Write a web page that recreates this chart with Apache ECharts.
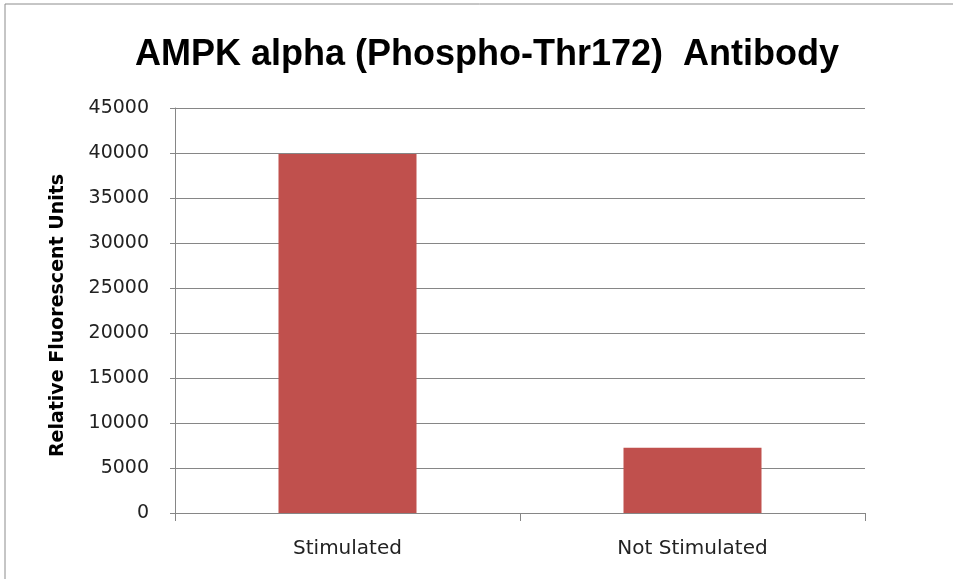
<!DOCTYPE html>
<html>
  <head>
    <meta charset="UTF-8" />
    <title>AMPK alpha</title>
    <script src="https://cdn.jsdelivr.net/npm/echarts@6/dist/echarts.min.js"></script>
  </head>
  <body style="margin:0">
    <div id="chart" style="width: 953px; height: 579px"></div>
  </body>
  <script>
    const categories = ["Stimulated", "Not Stimulated"];
    const rfu = [39900, 7250];

    let myChart = echarts.init(document.getElementById("chart"));

    myChart.setOption({
      backgroundColor: "#fff",
      animation: false,
      title: {
        text: "AMPK alpha (Phospho-Thr172)  Antibody",
        left: 482,
        top: 32,
        textAlign: "center",
        textStyle: { fontFamily: "Liberation Sans", fontWeight: "bold", fontSize: 36, color: "#000" },
      },
      graphic: [
        {
          type: "rect",
          shape: { x: 5, y: 4, width: 960, height: 590 },
          style: { fill: "none", stroke: "#8c8c8c", lineWidth: 1 },
          silent: true,
        },
      ],
      grid: { left: 175, right: 88, top: 108, bottom: 66 },
      xAxis: {
        type: "category",
        data: categories,
        axisLine: { lineStyle: { color: "#868686" } },
        axisTick: { show: true, length: 8, lineStyle: { color: "#868686" } },
        axisLabel: { margin: 26, fontFamily: "DejaVu Sans", fontSize: 20, color: "#222" },
      },
      yAxis: {
        type: "value",
        min: 0,
        max: 45000,
        interval: 5000,
        name: "Relative Fluorescent Units",
        nameLocation: "middle",
        nameGap: 107,
        nameTextStyle: {
          fontFamily: "DejaVu Sans",
          fontWeight: "bold",
          fontSize: 19,
          color: "#000",
          padding: [0, 10, 0, 0],
        },
        axisLine: { show: true, lineStyle: { color: "#868686" } },
        axisTick: { show: true, length: 5, lineStyle: { color: "#868686" } },
        axisLabel: {
          margin: 26,
          fontFamily: "DejaVu Sans",
          fontSize: 19,
          color: "#222",
          formatter: (v) => String(v),
        },
        splitLine: { lineStyle: { color: "#868686", width: 1 } },
      },
      series: [
        {
          name: "RFU",
          type: "bar",
          data: rfu,
          barWidth: "40%",
          itemStyle: { color: "#C0504D" },
        },
      ],
    });
  </script>
</html>
